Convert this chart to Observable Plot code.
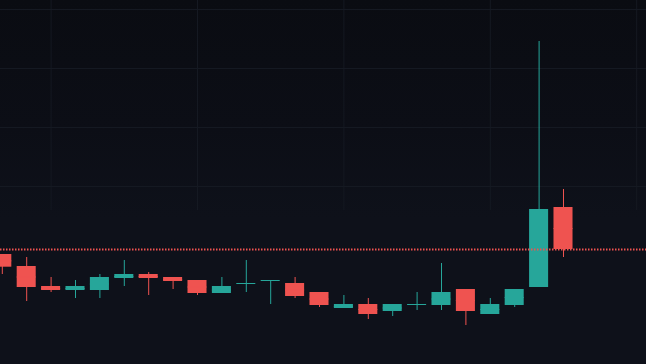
<!DOCTYPE html>
<html><head><meta charset="utf-8">
<script src="https://cdn.jsdelivr.net/npm/d3@7"></script>
<script src="https://cdn.jsdelivr.net/npm/@observablehq/plot@0.6"></script>
<style>
html,body{margin:0;padding:0;background:#0e111a;overflow:hidden;}
#chart svg{display:block;}
</style></head><body><div id="chart"></div>
<script>
// Candle index (24 sessions)
const candle = [0,1,2,3,4,5,6,7,8,9,10,11,12,13,14,15,16,17,18,19,20,21,22,23];
const open  = [11.0, 9.8, 7.8, 7.4, 7.4, 8.6, 9.0, 8.7, 8.4, 7.1, 8.1, 8.4, 8.1, 7.2, 5.6, 6.0, 5.3, 6.0, 5.9, 7.5, 5.0, 5.9, 7.7, 15.7];
const high  = [11.0, 10.7, 8.7, 8.4, 9.0, 10.4, 9.2, 8.7, 8.4, 8.7, 10.4, 8.4, 8.7, 7.2, 6.9, 6.6, 6.0, 7.2, 10.1, 7.5, 6.6, 7.5, 32.3, 17.5];
const low   = [9.0, 6.3, 7.2, 6.6, 6.6, 7.8, 6.9, 7.5, 6.9, 7.1, 7.2, 6.0, 6.6, 5.7, 5.6, 4.5, 4.8, 5.4, 5.4, 3.9, 5.0, 5.7, 7.7, 10.7];
const close = [9.73, 7.7, 7.4, 7.8, 8.7, 9.0, 8.6, 8.3, 7.1, 7.8, 8.1, 8.4, 6.8, 5.9, 6.0, 5.0, 6.0, 6.0, 7.2, 5.3, 6.0, 7.5, 15.5, 11.5];
// Background grid
const gridPrices = [35.5, 29.6, 23.7, 17.8];
const gridCandles = [2, 8, 14, 20, 26];
const lastPrice = close[close.length - 1];

const data = candle.map((c, i) => ({c, open: open[i], high: high[i], low: low[i], close: close[i]}));
const col = d => d.close >= d.open ? "#26a69a" : "#ef5350";
const half = 0.39;

const chart = Plot.plot({
  width: 646, height: 364, margin: 0,
  x: {type: "linear", domain: [-0.0738, 26.4016], axis: null},
  y: {domain: [0, 36.4], axis: null},
  color: {type: "identity"},
  style: {background: "linear-gradient(to bottom, #0a0c12 0%, #0c0e16 35%, #0e111a 60%, #0e111a 100%)"},
  marks: [
    Plot.ruleX(gridCandles, {x: d => d, y1: 15.4, y2: 36.4, stroke: "#151922"}),
    Plot.ruleY(gridPrices, {y: d => d, stroke: "#151922"}),
    Plot.ruleX(data, {x: "c", y1: "low", y2: "high", stroke: col}),
    Plot.rect(data, {x1: d => d.c - half, x2: d => d.c + half, y1: d => Math.min(d.open, d.close), y2: d => Math.max(d.open, d.close), fill: col}),
    Plot.ruleY(data, {y: d => (d.open + d.close) / 2, x1: d => d.c - half, x2: d => d.c + half, stroke: col}),
    Plot.ruleY([lastPrice], {y: d => d, stroke: "#ef5350", strokeWidth: 2, strokeDasharray: "1.5,1.5"})
  ]
});
document.getElementById("chart").append(chart);
</script>
</body></html>
